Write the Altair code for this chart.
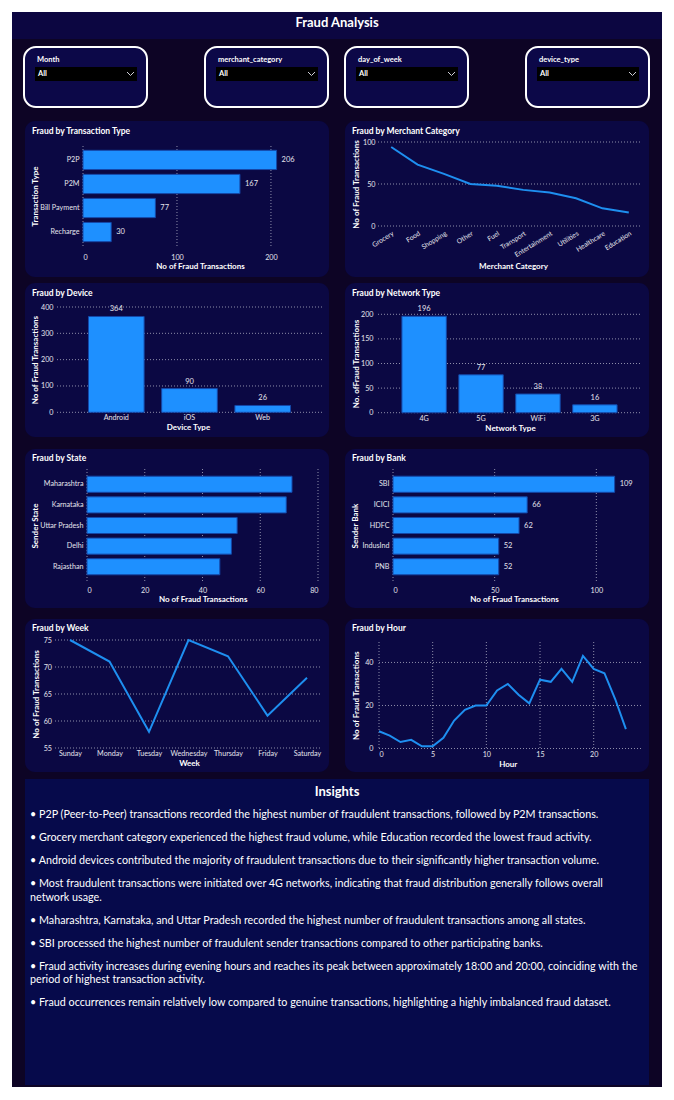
import altair as alt
import pandas as pd

# ---------------- data ----------------
txn_types = ["P2P", "P2M", "Bill Payment", "Recharge"]
txn_counts = [206, 167, 77, 30]

merchant_cats = ["Grocery", "Food", "Shopping", "Other", "Fuel", "Transport",
                 "Entertainment", "Utilities", "Healthcare", "Education"]
merchant_counts = [94, 73, 62, 50, 48, 43, 40, 33, 21, 16]

device_types = ["Android", "iOS", "Web"]
device_counts = [364, 90, 26]

network_types = ["4G", "5G", "WiFi", "3G"]
network_counts = [196, 77, 38, 16]

states = ["Maharashtra", "Karnataka", "Uttar Pradesh", "Delhi", "Rajasthan"]
state_counts = [71, 69, 52, 50, 46]

banks = ["SBI", "ICICI", "HDFC", "IndusInd", "PNB"]
bank_counts = [109, 66, 62, 52, 52]

weekdays = ["Sunday", "Monday", "Tuesday", "Wednesday", "Thursday", "Friday", "Saturday"]
week_counts = [75, 71, 58, 75, 72, 61, 68]

hours = list(range(24))
hour_counts = [8, 6, 3, 4, 1, 1, 5, 13, 18, 20, 20, 27, 30, 25, 21, 32, 31, 37, 31, 43, 37, 35, 23, 9]

# axis tick values
txn_ticks = [0, 100, 200]
merchant_ticks = [0, 50, 100]
device_ticks = [0, 100, 200, 300, 400]
network_ticks = [0, 50, 100, 150, 200]
state_ticks = [0, 20, 40, 60, 80]
bank_ticks = [0, 50, 100]
week_ticks = [55, 60, 65, 70, 75]
hour_x_ticks = [0, 5, 10, 15, 20]
hour_y_ticks = [0, 20, 40]

filter_names = ["Month", "merchant_category", "day_of_week", "device_type"]

insights = [
    ["\u2022 P2P (Peer-to-Peer) transactions recorded the highest number of fraudulent transactions, followed by P2M transactions."],
    ["\u2022 Grocery merchant category experienced the highest fraud volume, while Education recorded the lowest fraud activity."],
    ["\u2022 Android devices contributed the majority of fraudulent transactions due to their significantly higher transaction volume."],
    ["\u2022 Most fraudulent transactions were initiated over 4G networks, indicating that fraud distribution generally follows overall",
     "network usage."],
    ["\u2022 Maharashtra, Karnataka, and Uttar Pradesh recorded the highest number of fraudulent transactions among all states."],
    ["\u2022 SBI processed the highest number of fraudulent sender transactions compared to other participating banks."],
    ["\u2022 Fraud activity increases during evening hours and reaches its peak between approximately 18:00 and 20:00, coinciding with the",
     "period of highest transaction activity."],
    ["\u2022 Fraud occurrences remain relatively low compared to genuine transactions, highlighting a highly imbalanced fraud dataset."],
]

# ---------------- style ----------------
FONT = "Lato, Roboto, sans-serif"
UI_FONT = "Lato, 'Open Sans', sans-serif"

DASH_BG = "#0d0425"
TITLE_BAR = "#0c0641"
CARD = "#0b0843"
FILTER = "#0c0848"
INSIGHT_BG = "#060a4b"
BAR = "#1e90ff"
BAR_EDGE = "#1548a8"
LINE = "#1e8ff0"
GRID = "#8e8eaa"
WHITE = "#ffffff"
LABEL = "#e4e4ec"

# page layout (pixels); every cell's plot area covers the whole cell
COLS = [(12, 337), (337, 662)]
ROWS = [(117, 281), (281, 445), (445, 614), (614, 776)]
CARD_X = [(25, 329), (345, 649)]
CARD_Y = [(121, 277), (283, 437), (449, 608), (619, 772)]
TITLE_Y = [131, 293, 458, 628]

one = pd.DataFrame({"k": [0]})


def cell(row, col):
    cx0, cx1 = COLS[col]
    cy0, cy1 = ROWS[row]
    return cx0, cy0, cx1 - cx0, cy1 - cy0


def frame(row, col, title):
    """Dark cell background, rounded card and card heading."""
    cx0, cy0, cw, ch = cell(row, col)
    kx0, kx1 = CARD_X[col]
    ky0, ky1 = CARD_Y[row]
    bg = alt.Chart(one).mark_rect(color=DASH_BG).encode(
        x=alt.value(0), x2=alt.value(cw), y=alt.value(0), y2=alt.value(ch))
    card = alt.Chart(one).mark_rect(color=CARD, cornerRadius=10).encode(
        x=alt.value(kx0 - cx0), x2=alt.value(kx1 - cx0),
        y=alt.value(ky0 - cy0), y2=alt.value(ky1 - cy0))
    head = alt.Chart(one).mark_text(
        text=title, font=FONT, fontSize=8.5, fontWeight="bold", color=WHITE,
        align="left", baseline="middle").encode(
        x=alt.value(kx0 + 7 - cx0), y=alt.value(TITLE_Y[row] - cy0))
    return [bg, card, head]


class Plot:
    """Plot rectangle (absolute page pixels) inside a cell."""

    def __init__(self, row, col, px, py, pw, ph):
        self.row, self.col = row, col
        self.cx0, self.cy0, self.cw, self.ch = cell(row, col)
        self.px, self.py, self.pw, self.ph = px, py, pw, ph
        self.x0 = px - self.cx0
        self.x1 = self.x0 + pw
        self.y0 = py - self.cy0
        self.y1 = self.y0 + ph

    def left_axis(self, title, title_x, label_pad, **kw):
        return alt.Axis(title=title, orient="left", offset=-self.x0, zindex=2,
                        titleX=title_x - self.px, titleY=(self.y0 + self.y1) / 2,
                        titleBaseline="middle", labelPadding=label_pad, grid=False, **kw)

    def bottom_axis(self, title, title_x, title_y, label_pad, **kw):
        return alt.Axis(title=title, orient="bottom", offset=-(self.ch - self.y1), zindex=2,
                        titleX=title_x - self.cx0, titleY=title_y - (self.py + self.ph),
                        titleBaseline="middle", labelPadding=label_pad, grid=False, **kw)

    def vgrid(self, field, ticks, x_enc):
        d = pd.DataFrame({field: ticks})
        return alt.Chart(d).mark_rule(color=GRID, strokeDash=[1, 2], strokeWidth=1).encode(
            x=x_enc, y=alt.value(self.y0), y2=alt.value(self.y1))

    def hgrid(self, field, ticks, y_enc):
        d = pd.DataFrame({field: ticks})
        return alt.Chart(d).mark_rule(color=GRID, strokeDash=[1, 2], strokeWidth=1).encode(
            y=y_enc, x=alt.value(self.x0), x2=alt.value(self.x1))

    def build(self, title, *layers):
        return alt.layer(*frame(self.row, self.col, title), *layers).properties(
            width=self.cw, height=self.ch)


def value_labels(base, **kw):
    return base.mark_text(font=FONT, fontSize=7.5, color=LABEL, baseline="middle", **kw).encode(text="n:Q")


def bars(base):
    return base.mark_bar(color=BAR, stroke=BAR_EDGE, strokeWidth=1)


# ---- Fraud by Transaction Type ----
P = Plot(0, 0, 83, 146, 234, 100)
x_enc = alt.X("n:Q", scale=alt.Scale(domain=[0, 249], nice=False, range=[P.x0, P.x1]),
              axis=P.bottom_axis("No of Fraud Transactions", 200, 266, 11,
                                 values=txn_ticks, labelBaseline="middle"))
y_enc = alt.Y("type:N", sort=txn_types,
              scale=alt.Scale(paddingInner=0.2, paddingOuter=0.18, range=[P.y0, P.y1]),
              axis=P.left_axis("Transaction Type", 35, 4))
base = alt.Chart(pd.DataFrame({"type": txn_types, "n": txn_counts})).encode(x=x_enc, y=y_enc)
p1 = P.build("Fraud by Transaction Type", P.vgrid("n", txn_ticks, x_enc), bars(base),
             value_labels(base, align="left", dx=5))

# ---- Fraud by Merchant Category ----
P = Plot(0, 1, 378, 142, 264, 84)
x_enc = alt.X("cat:N", sort=merchant_cats,
              scale=alt.Scale(type="point", padding=0.5, range=[P.x0, P.x1]),
              axis=P.bottom_axis("Merchant Category", 513, 266, 4, labelAngle=-32,
                                 labelAlign="right", labelBaseline="top", labelFontSize=6.8))
y_enc = alt.Y("n:Q", scale=alt.Scale(domain=[0, 100], nice=False, range=[P.y1, P.y0]),
              axis=P.left_axis("No of Fraud Transactions", 356, 3, values=merchant_ticks))
line = alt.Chart(pd.DataFrame({"cat": merchant_cats, "n": merchant_counts})).mark_line(
    color=LINE, strokeWidth=2).encode(x=x_enc, y=y_enc)
p2 = P.build("Fraud by Merchant Category", P.hgrid("n", merchant_ticks, y_enc), line)

# ---- Fraud by Device ----
P = Plot(1, 0, 57, 307, 265, 105.3)
x_enc = alt.X("dev:N", sort=device_types,
              scale=alt.Scale(paddingInner=0.24, paddingOuter=0.43, range=[P.x0, P.x1]),
              axis=P.bottom_axis("Device Type", 188, 427, 5, labelAngle=0, labelBaseline="middle"))
y_enc = alt.Y("n:Q", scale=alt.Scale(domain=[0, 400], nice=False, range=[P.y1, P.y0]),
              axis=P.left_axis("No of Fraud Transactions", 35, 4, values=device_ticks))
base = alt.Chart(pd.DataFrame({"dev": device_types, "n": device_counts})).encode(x=x_enc, y=y_enc)
p3 = P.build("Fraud by Device", P.hgrid("n", device_ticks, y_enc), bars(base),
             value_labels(base, align="center", dy=-7))

# ---- Fraud by Network Type ----
P = Plot(1, 1, 378, 314.3, 263, 98.4)
x_enc = alt.X("net:N", sort=network_types,
              scale=alt.Scale(paddingInner=0.22, paddingOuter=0.42, range=[P.x0, P.x1]),
              axis=P.bottom_axis("Network Type", 510, 428, 6, labelAngle=0, labelBaseline="middle"))
y_enc = alt.Y("n:Q", scale=alt.Scale(domain=[0, 200], nice=False, range=[P.y1, P.y0]),
              axis=P.left_axis("No. ofFraud Transactions", 356, 5, values=network_ticks))
base = alt.Chart(pd.DataFrame({"net": network_types, "n": network_counts})).encode(x=x_enc, y=y_enc)
p4 = P.build("Fraud by Network Type", P.hgrid("n", network_ticks, y_enc), bars(base),
             value_labels(base, align="center", dy=-7))

# ---- Fraud by State ----
P = Plot(2, 0, 87, 469, 231, 113)
x_enc = alt.X("n:Q", scale=alt.Scale(domain=[0, 80], nice=False, range=[P.x0, P.x1]),
              axis=P.bottom_axis("No of Fraud Transactions", 202.7, 599, 8,
                                 values=state_ticks, labelBaseline="middle"))
y_enc = alt.Y("state:N", sort=states,
              scale=alt.Scale(paddingInner=0.22, paddingOuter=0.35, range=[P.y0, P.y1]),
              axis=P.left_axis("Sender State", 35, 4))
base = alt.Chart(pd.DataFrame({"state": states, "n": state_counts})).encode(x=x_enc, y=y_enc)
p5 = P.build("Fraud by State", P.vgrid("n", state_ticks, x_enc), bars(base))

# ---- Fraud by Bank ----
P = Plot(2, 1, 393, 469, 244, 113)
x_enc = alt.X("n:Q", scale=alt.Scale(domain=[0, 120], nice=False, range=[P.x0, P.x1]),
              axis=P.bottom_axis("No of Fraud Transactions", 514, 599, 8,
                                 values=bank_ticks, labelBaseline="middle"))
y_enc = alt.Y("bank:N", sort=banks,
              scale=alt.Scale(paddingInner=0.22, paddingOuter=0.35, range=[P.y0, P.y1]),
              axis=P.left_axis("Sender Bank", 355, 4))
base = alt.Chart(pd.DataFrame({"bank": banks, "n": bank_counts})).encode(x=x_enc, y=y_enc)
p6 = P.build("Fraud by Bank", P.vgrid("n", bank_ticks, x_enc), bars(base),
             value_labels(base, align="left", dx=5))

# ---- Fraud by Week ----
P = Plot(3, 0, 55, 640, 267, 108)
x_enc = alt.X("day:N", sort=weekdays,
              scale=alt.Scale(type="point", padding=0.38, range=[P.x0, P.x1]),
              axis=P.bottom_axis("Week", 189, 763, 5, labelAngle=0, labelBaseline="middle"))
y_enc = alt.Y("n:Q", scale=alt.Scale(domain=[55, 75], nice=False, zero=False, range=[P.y1, P.y0]),
              axis=P.left_axis("No of Fraud Transactions", 36, 3.5, values=week_ticks))
line = alt.Chart(pd.DataFrame({"day": weekdays, "n": week_counts})).mark_line(
    color=LINE, strokeWidth=2).encode(x=x_enc, y=y_enc)
p7 = P.build("Fraud by Week", P.hgrid("n", week_ticks, y_enc), line)

# ---- Fraud by Hour ----
P = Plot(3, 1, 379, 642, 263, 106.5)
x_enc = alt.X("hour:Q", scale=alt.Scale(domain=[0, 24.5], nice=False, range=[P.x0, P.x1]),
              axis=P.bottom_axis("Hour", 507.7, 764, 5.5, values=hour_x_ticks, labelBaseline="middle"))
y_enc = alt.Y("n:Q", scale=alt.Scale(domain=[0, 49.5], nice=False, range=[P.y1, P.y0]),
              axis=P.left_axis("No of Fraud Transactions", 356, 6, values=hour_y_ticks))
line = alt.Chart(pd.DataFrame({"hour": hours, "n": hour_counts})).mark_line(
    color=LINE, strokeWidth=2).encode(x=x_enc, y=y_enc)
p8 = P.build("Fraud by Hour", P.hgrid("n", hour_y_ticks, y_enc),
             P.vgrid("hour", hour_x_ticks, x_enc), line)

# ---- header: title bar and slicers ----
HX, HY, HW, HH = 12, 12, 650, 105
header_layers = [
    alt.Chart(one).mark_rect(color=DASH_BG).encode(
        x=alt.value(0), x2=alt.value(HW), y=alt.value(0), y2=alt.value(HH)),
    alt.Chart(one).mark_rect(color=TITLE_BAR).encode(
        x=alt.value(0), x2=alt.value(HW), y=alt.value(0), y2=alt.value(39 - HY)),
    alt.Chart(one).mark_text(text="Fraud Analysis", font=UI_FONT, fontSize=13, fontWeight="bold",
                             color=WHITE, align="center", baseline="middle").encode(
        x=alt.value(337 - HX), y=alt.value(23 - HY)),
]
slicer_left = [24, 205, 345, 526]
for name, bx in zip(filter_names, slicer_left):
    x0 = bx - HX
    header_layers += [
        alt.Chart(one).mark_rect(color=FILTER, stroke=WHITE, strokeWidth=2, cornerRadius=12).encode(
            x=alt.value(x0), x2=alt.value(x0 + 123), y=alt.value(47 - HY), y2=alt.value(107 - HY)),
        alt.Chart(one).mark_text(text=name, font=FONT, fontSize=7.5, fontWeight="bold", color=WHITE,
                                 align="left", baseline="middle").encode(
            x=alt.value(x0 + 13), y=alt.value(60 - HY)),
        alt.Chart(one).mark_rect(color="#000000").encode(
            x=alt.value(x0 + 11), x2=alt.value(x0 + 113), y=alt.value(67 - HY), y2=alt.value(81 - HY)),
        alt.Chart(one).mark_text(text="All", font=FONT, fontSize=7.5, fontWeight="bold", color=WHITE,
                                 align="left", baseline="middle").encode(
            x=alt.value(x0 + 14), y=alt.value(74 - HY)),
        alt.Chart(one).mark_rule(color="#cfcfd8", strokeWidth=1).encode(
            x=alt.value(x0 + 103), y=alt.value(72 - HY), x2=alt.value(x0 + 106.5), y2=alt.value(75.5 - HY)),
        alt.Chart(one).mark_rule(color="#cfcfd8", strokeWidth=1).encode(
            x=alt.value(x0 + 106.5), y=alt.value(75.5 - HY), x2=alt.value(x0 + 110), y2=alt.value(72 - HY)),
    ]
header = alt.layer(*header_layers).properties(width=HW, height=HH)

# ---- insights box ----
IX, IY, IW, IH = 12, 776, 650, 311
ins_layers = [
    alt.Chart(one).mark_rect(color=DASH_BG).encode(
        x=alt.value(0), x2=alt.value(IW), y=alt.value(0), y2=alt.value(IH)),
    alt.Chart(one).mark_rect(color=INSIGHT_BG).encode(
        x=alt.value(25 - IX), x2=alt.value(649 - IX), y=alt.value(779 - IY), y2=alt.value(1085 - IY)),
    alt.Chart(one).mark_text(text="Insights", font=UI_FONT, fontSize=13, fontWeight="bold", color=WHITE,
                             align="center", baseline="middle").encode(
        x=alt.value(337 - IX), y=alt.value(792 - IY)),
]
line_y = 815 - IY
for bullet in insights:
    for k, txt in enumerate(bullet):
        ins_layers.append(
            alt.Chart(one).mark_text(text=txt, font=UI_FONT, fontSize=10.75, color=WHITE,
                                     align="left", baseline="middle").encode(
                x=alt.value(30 - IX), y=alt.value(line_y + 13.5 * k)))
    line_y += 23 + 13.5 * (len(bullet) - 1)
insight_box = alt.layer(*ins_layers).properties(width=IW, height=IH)

chart = alt.vconcat(
    header,
    alt.hconcat(p1, p2, spacing=0),
    alt.hconcat(p3, p4, spacing=0),
    alt.hconcat(p5, p6, spacing=0),
    alt.hconcat(p7, p8, spacing=0),
    insight_box,
    spacing=0,
).properties(
    padding={"left": 12, "top": 12, "right": 12, "bottom": 13},
    background="#ffffff",
).configure_view(stroke=None, fill=None).configure_axis(
    domain=False, ticks=False, tickSize=0,
    labelColor=LABEL, labelFont=FONT, labelFontSize=7.2,
    titleColor=WHITE, titleFont=FONT, titleFontSize=8, titleFontWeight="bold",
    labelOverlap=False,
)

chart.save("out.html", embed_options={"renderer": "svg", "actions": False})
